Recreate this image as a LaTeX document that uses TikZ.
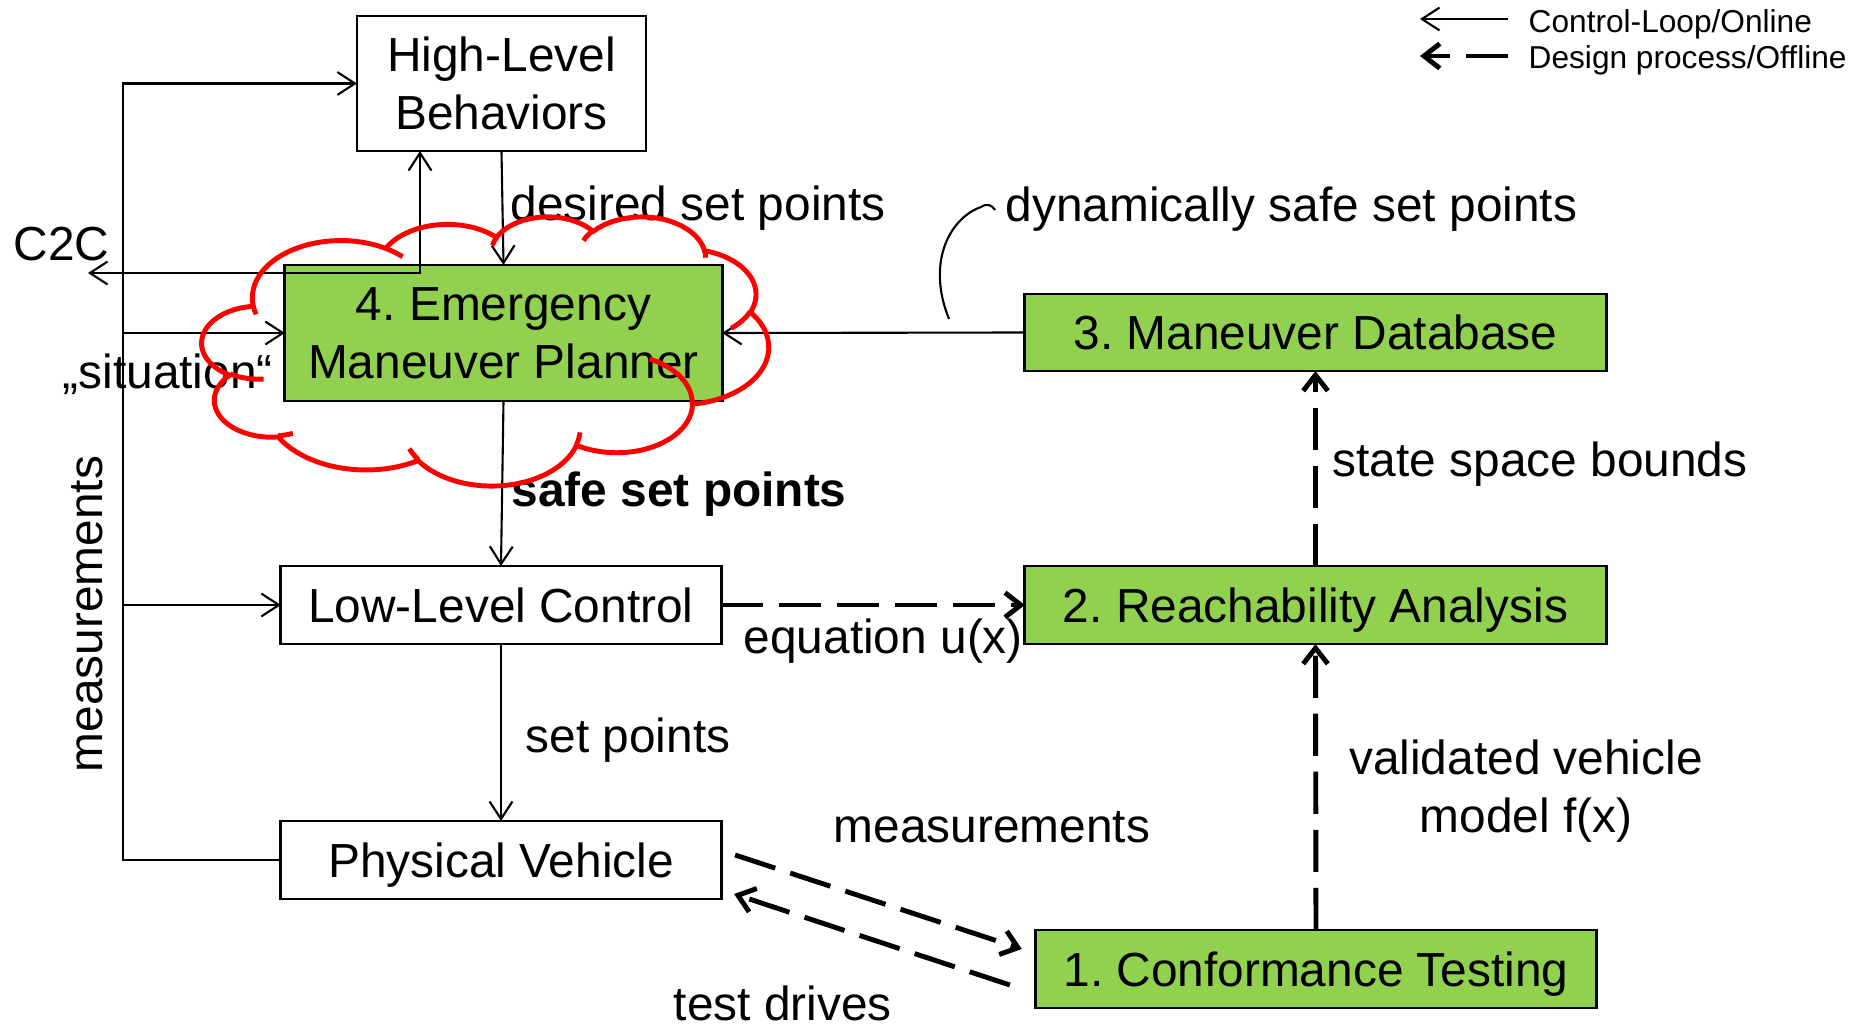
\documentclass[tikz,border=0pt]{standalone}
\usepackage{fontspec}
\setmainfont{Liberation Sans}
\usetikzlibrary{arrows.meta,calc}
\definecolor{boxgreen}{RGB}{146,208,80}
\newcommand\dfont{\fontsize{13.6}{16.5}\selectfont}
\newcommand\lfont{\fontsize{9}{11}\selectfont}
\frenchspacing
\begin{document}
\begin{tikzpicture}[x=0.01cm,y=-0.01cm,
  box/.style={draw=black, line width=0.8pt, inner sep=0pt, outer sep=0pt, font=\dfont, align=center},
  onebox/.style={box, text height=9.7pt, text depth=0pt},
  gbox/.style={onebox, fill=boxgreen},
  conn/.style={line width=0.6pt, -{Straight Barb[length=5pt,width=6.5pt]}},
  conntwo/.style={line width=0.6pt, {Straight Barb[length=5pt,width=6.5pt]}-{Straight Barb[length=5pt,width=6.5pt]}},
  design/.style={line width=1.4pt, dash pattern=on 12pt off 4.5pt, -{Straight Barb[length=4.5pt,width=7pt]}},
  lbl/.style={inner sep=0pt, anchor=base west, font=\dfont},
  cloudline/.style={draw=red, line width=1.4pt}
]
\useasboundingbox (0,0) rectangle (1853,1027);

% boxes
\node[box, minimum width=2.89cm, minimum height=1.35cm] (hlb) at (501.5,83.5) {High-Level\\Behaviors};
\node[box, fill=boxgreen, minimum width=4.37cm, minimum height=1.36cm] (emp) at (503.5,333) {4. Emergency\\Maneuver Planner};
\node[gbox, minimum width=5.81cm, minimum height=0.77cm] (mdb) at (1315.5,332.5) {3. Maneuver Database};
\node[onebox, minimum width=4.40cm, minimum height=0.78cm] (llc) at (501,605) {Low-Level Control};
\node[onebox, minimum width=4.40cm, minimum height=0.78cm] (pv) at (501,860) {Physical Vehicle};
\node[gbox, minimum width=5.81cm, minimum height=0.78cm] (ra) at (1315.5,605) {2. Reachability Analysis};
\node[gbox, minimum width=5.60cm, minimum height=0.78cm] (ct) at (1316,969) {1. Conformance Testing};

% labels
\node[lbl] (lc2c) at (13,260) {C2C};
\node[lbl] (lsit) at (62,388) {„situation“};
\node[lbl] (ldes) at (510,220) {desired set points};
\node[lbl, font=\dfont\bfseries] (lsafe) at (511,506) {safe set points};
\node[lbl] (ldyn) at (1005,221) {dynamically safe set points};
\node[lbl] (lssb) at (1332,476) {state space bounds};
\node[font=\dfont, align=center, inner sep=0pt] (lval) at (1526,791) {validated vehicle\\model f(x)};
\node[lbl] (lmeas) at (833,842) {measurements};
\node[lbl] (ltest) at (673,1020) {test drives};
\node[lbl] (leq) at (743,653) {equation u(x)};
\node[lbl] (lsp) at (525,752) {set points};
\node[lbl, rotate=90] (lmeasv) at (103,773) {measurements};

% legend
\node[lbl, font=\lfont] (lg1) at (1528,32) {Control-Loop/Online};
\node[lbl, font=\lfont] (lg2) at (1528,68) {Design process/Offline};
\coordinate (lgA) at (1508,19);
\coordinate (lgB) at (1420,19);
\coordinate (lgC) at (1508,56);
\coordinate (lgD) at (1420,56);
\draw[conn] (lgA) -- (lgB);
\draw[design] (lgC) -- (lgD);

% control loop connectors
\coordinate (busB) at (123,860);
\draw[conn] (pv.west) -- (busB) -- (busB |- hlb.west) -- (hlb.west);
\draw[conn] (busB |- emp.west) -- (emp.west);
\draw[conn] (busB |- llc.west) -- (llc.west);
\coordinate (c2cend) at (88,273);
\coordinate (c2cturn) at (420,273);
\draw[conntwo] (c2cend) -- (c2cturn) -- (c2cturn |- hlb.south);
\draw[conn] (hlb.south) -- (emp.north);
\draw[conn] (emp.south) -- (llc.north);
\draw[conn] (llc.south) -- (pv.north);
\draw[conn] (mdb.west) -- (emp.east);

% annotation curve
\coordinate (annS) at (949,319);
\coordinate (annE) at (995,210);
\draw[line width=0.6pt] (annS) .. controls (926,262) and (950,218) .. (981,207) .. controls (987,203) and (992,205) .. (annE);

% design process connectors
\draw[design] (llc.east) -- (ra.west);
\draw[design] (ra.north) -- (mdb.south);
\draw[design] (ct.north) -- (ra.south);
\draw[design] ([shift={(14,-5)}]pv.east) -- ([shift={(-14,-20)}]ct.west);
\draw[design] ([shift={(-26,16)}]ct.west) -- ([shift={(13,34)}]pv.east);

% cloud (PowerPoint-like cloud outline)
\begin{scope}[shift={(202,216)}, x=0.013102cm, y=-0.0062269cm]
\draw[cloudline] (39.00,143.70)
  \foreach \wr/\hr/\sa/\da in {67.53/91.90/-190.487/123.781,
                               53.33/72.67/-144.102/89.945,
                               43.65/59.45/-145.808/99.723,
                               48.57/65.95/-130.986/117.242,
                               53.33/72.73/-78.709/109.027,
                               67.75/92.20/-46.267/130.269,
                               57.85/78.67/0.625/114.033,
                               67.52/92.15/22.452/115.173,
                               77.20/105.43/66.243/75.711,
                               43.60/59.18/-274.942/146.736,
                               43.45/59.45/-246.829/152.519}
  { let \n1={atan2(\wr*sin(\sa),\hr*cos(\sa))},
        \n2={atan2(\wr*sin(\sa+\da),\hr*cos(\sa+\da))},
        \n3={(\n2<\n1) ? (\n2+360) : (\n2)} in
    arc[start angle=\n1, end angle=\n3, x radius=\wr, y radius=\hr] } -- cycle;
\foreach \px/\py/\wr/\hr/\sa/\da in {46.93/261.77/43.45/59.45/86.742/26.430,
                                      69.28/348.99/43.60/59.18/73.610/11.447,
                                      164.78/390.90/67.52/92.15/137.624/14.081,
                                      288.27/347.51/67.52/92.15/6.453/15.998,
                                      341.29/229.54/57.85/78.67/-70.292/70.917,
                                      417.98/153.54/53.33/72.73/30.318/27.752,
                                      383.24/54.26/48.57/65.95/-13.744/14.859,
                                      290.78/39.52/48.57/65.95/-149.181/18.195,
                                      221.41/47.20/43.65/59.45/-163.494/17.686,
                                      140.00/51.92/67.53/91.90/-66.707/12.319,
                                      41.27/157.89/67.53/91.90/157.658/11.858}
{
  \draw[cloudline] (\px,\py)
    let \n1={atan2(\wr*sin(\sa),\hr*cos(\sa))},
        \n2={atan2(\wr*sin(\sa+\da),\hr*cos(\sa+\da))},
        \n3={(\n2<\n1) ? (\n2+360) : (\n2)} in
    arc[start angle=\n1, end angle=\n3, x radius=\wr, y radius=\hr];
}
\end{scope}
\end{tikzpicture}
\end{document}
